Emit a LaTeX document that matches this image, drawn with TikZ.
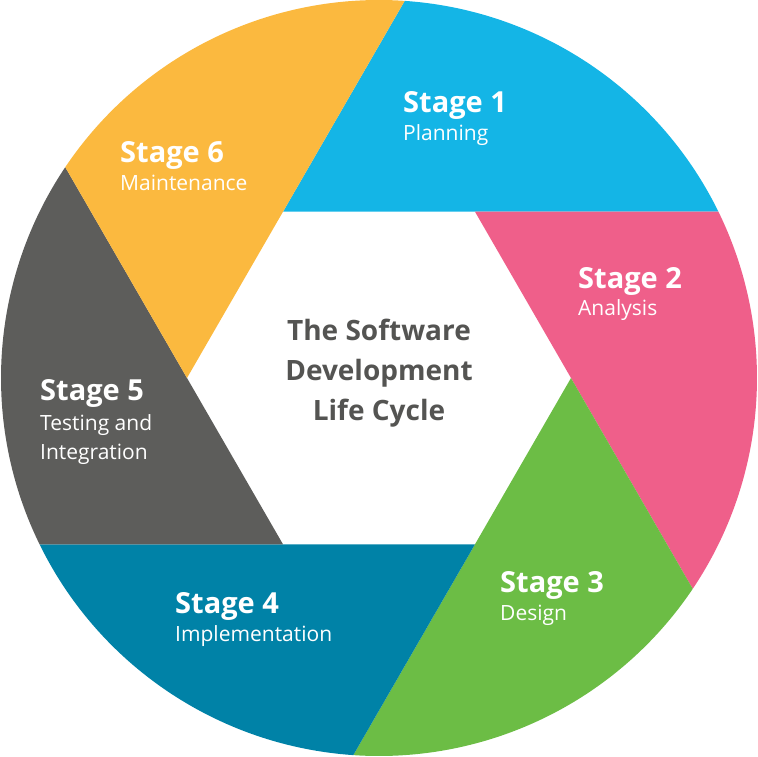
\documentclass[tikz,border=0pt]{standalone}
\usepackage{fontspec}
\setmainfont{Open Sans}
\definecolor{planblue}{RGB}{20,181,230}
\definecolor{anapink}{RGB}{239,95,138}
\definecolor{desgreen}{RGB}{108,189,69}
\definecolor{impteal}{RGB}{0,130,167}
\definecolor{testgray}{RGB}{93,93,91}
\definecolor{mainorange}{RGB}{251,185,63}
\tikzset{
        stage/.style={anchor=base west, inner sep=0pt, text=white, font=\fontsize{29}{29}\selectfont\bfseries}, % stage heading
        task/.style={anchor=base west, inner sep=0pt, text=white, font=\fontsize{21}{21}\selectfont}, % stage name
        title/.style={anchor=base, inner sep=0pt, text=testgray!90!black, font=\fontsize{28}{28}\selectfont\bfseries},
    }
\begin{document}
\begin{tikzpicture}[x=1pt, y=1pt]
    \useasboundingbox (-379,-378) rectangle (379,378);
    % the six segments round the hexagon
    \foreach \k/\col in {0/planblue, 1/anapink, 2/desgreen, 3/impteal, 4/testgray, 5/mainorange}{
      \fill[\col] (120-60*\k:192) -- (86.1-60*\k:378)
        arc[start angle=86.1-60*\k, end angle=26.1-60*\k, radius=378]
        -- (60-60*\k:192) -- cycle;
    }
    \node[stage] (s1) at (24,266) {Stage 1};
    \node[task] (t1) at (24,238) {Planning};
    \node[stage] (s2) at (199,90) {Stage 2};
    \node[task] (t2) at (199,63) {Analysis};
    \node[stage] (s3) at (121,-214) {Stage 3};
    \node[task] (t3) at (121,-242) {Design};
    \node[stage] (s4) at (-204,-235) {Stage 4};
    \node[task] (t4) at (-204,-263) {Implementation};
    \node[stage] (s5) at (-339,-22) {Stage 5};
    \node[task] (t5a) at (-339,-52) {Testing and};
    \node[task] (t5b) at (-339,-81) {Integration};
    \node[stage] (s6) at (-259,216) {Stage 6};
    \node[task] (t6) at (-259,188) {Maintenance};
    \node[title] (c1) at (0,38) {The Software};
    \node[title] (c2) at (0,-2) {Development};
    \node[title] (c3) at (0,-42) {Life Cycle};
\end{tikzpicture}
\end{document}
